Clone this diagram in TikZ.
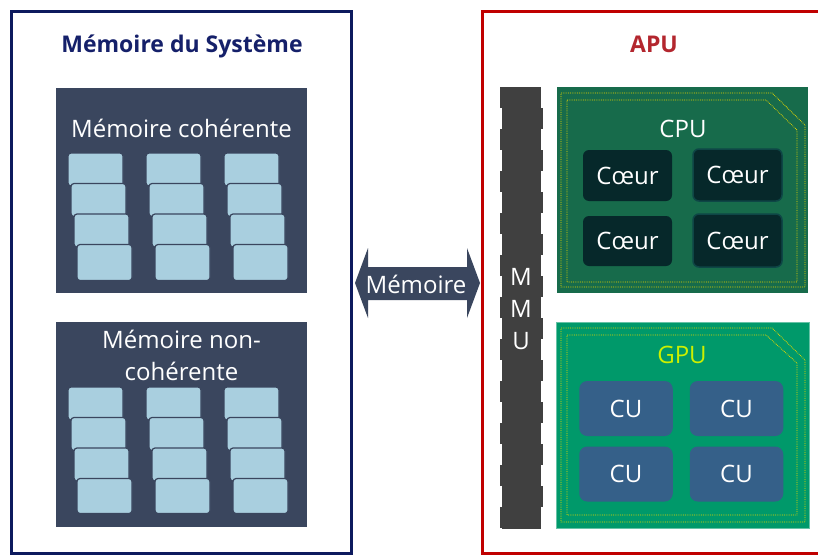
\documentclass[tikz,border=0pt]{standalone}
\usepackage{fontspec}
\setmainfont{Open Sans}
\definecolor{navy}{HTML}{0D1A5E}
\definecolor{navytxt}{HTML}{15206A}
\definecolor{panel}{HTML}{3A465E}
\definecolor{tile}{HTML}{A9CFDF}
\definecolor{apured}{HTML}{C00000}
\definecolor{aputxt}{HTML}{B3262E}
\definecolor{mmu}{HTML}{404040}
\definecolor{cpu}{HTML}{176B4B}
\definecolor{core}{HTML}{06282A}
\definecolor{coreedge}{HTML}{0E4646}
\definecolor{gpu}{HTML}{00996A}
\definecolor{cu}{HTML}{356089}
\definecolor{gputxt}{HTML}{CCF000}
\definecolor{dotyel}{HTML}{E6D600}
\newcommand\tilestack[3]{%
  \foreach \i in {0,1,2} {\draw[tilebox] ({#1+3*\i},{#2+30.5*\i}) rectangle ++(55,33);}
  \draw[tilebox] ({#1+9},{#2+91.5}) rectangle ++(55,#3);}
\begin{document}
\begin{tikzpicture}[x=1pt,y=-1pt,
  txt/.style={font=\fontsize{24}{28}\selectfont, text=white, inner sep=0pt, anchor=base},
  ttl/.style={font=\bfseries\fontsize{23}{27}\selectfont, inner sep=0pt, anchor=base},
  tilebox/.style={fill=tile, draw=panel, line width=1.2pt, rounded corners=3pt},
  corebox/.style={fill=core, rounded corners=6pt, text=white, font=\fontsize{24}{28}\selectfont, inner sep=0pt},
  cubox/.style={fill=cu, rounded corners=8pt, text=white, font=\fontsize{24}{28}\selectfont, inner sep=0pt, minimum width=93.5pt, minimum height=55pt},
  dotline/.style={draw=dotyel, line width=0.8pt, dash pattern=on 0.8pt off 1pt}]
\clip (0,0) rectangle (818,554);
\fill[white] (0,0) rectangle (818,554);
% ---------- left: system memory ----------
\draw[navy, line width=3pt] (11.5,11) rectangle (351.5,553);
\node[ttl, text=navytxt] (memsys) at (182,52) {Mémoire du Système};
\fill[panel] (56,88) rectangle (307,293);
\node[txt] (coh) at (181.5,137) {Mémoire cohérente};
\tilestack{68}{153}{36}
\tilestack{146}{153}{36}
\tilestack{224}{153}{36}
\fill[panel] (56,322) rectangle (307,527);
\node[txt] (noncoh1) at (181.5,348) {Mémoire non-};
\node[txt] (noncoh2) at (181.5,380) {cohérente};
\tilestack{68}{387}{35}
\tilestack{146}{387}{35}
\tilestack{224}{387}{35}
% ---------- arrow ----------
\fill[panel] (355,283) -- (368,248) -- (368,267) -- (467,267) -- (467,248) -- (480,283)
  -- (467,318) -- (467,300) -- (368,300) -- (368,318) -- cycle;
\node[txt] (arrowlbl) at (416,293) {Mémoire};
% ---------- right: APU ----------
\draw[apured, line width=3pt] (482,11) rectangle (830,553);
\node[ttl, text=aputxt] (apu) at (654,52) {APU};
% MMU
\fill[mmu] (502,87) rectangle (541,529);
\foreach \k in {0,...,20} {
  \pgfmathsetmacro\ya{87+21*\k}
  \pgfmathsetmacro\yb{min(87+21*(\k+1),529)}
  \ifodd\k
    \fill[mmu] (503,\ya) rectangle (543,\yb);
  \else
    \fill[mmu] (500,\ya) rectangle (541,\yb);
  \fi
}
\node[txt] (mmu1) at (521,285) {M};
\node[txt] (mmu2) at (521,317) {M};
\node[txt] (mmu3) at (521,349) {U};
% CPU
\fill[cpu] (557,87) rectangle (808,293);
\draw[dotline] (561,93) -- (772,93) -- (805,125) -- (805,287) -- (561,287) -- cycle;
\draw[dotline] (567,100) -- (766,100) -- (797,130) -- (797,282) -- (567,282) -- cycle;
\node[txt] (cpulbl) at (683,137) {CPU};
\node[corebox, minimum width=89pt, minimum height=51pt] (core1) at (627.5,175.5) {Cœur};
\node[corebox, draw=coreedge, line width=1.5pt, minimum width=89pt, minimum height=52pt] (core2) at (737.5,175) {Cœur};
\node[corebox, minimum width=89pt, minimum height=50pt] (core3) at (627.5,241) {Cœur};
\node[corebox, draw=coreedge, line width=1.5pt, minimum width=89pt, minimum height=53pt] (core4) at (737.5,240.5) {Cœur};
% GPU
\fill[gpu, draw=gpu!60!white, line width=0.6pt] (556,322) rectangle (809,528);
\draw[dotline] (561,328) -- (772,328) -- (805,360) -- (805,522) -- (561,522) -- cycle;
\draw[dotline] (567,335) -- (766,335) -- (797,363) -- (797,515) -- (567,515) -- cycle;
\node[txt, text=gputxt] (gpulbl) at (682,363) {GPU};
\node[cubox] (cu1) at (626,408.5) {CU};
\node[cubox] (cu2) at (736.5,408.5) {CU};
\node[cubox] (cu3) at (626,474) {CU};
\node[cubox] (cu4) at (736.5,474) {CU};
\end{tikzpicture}
\end{document}
